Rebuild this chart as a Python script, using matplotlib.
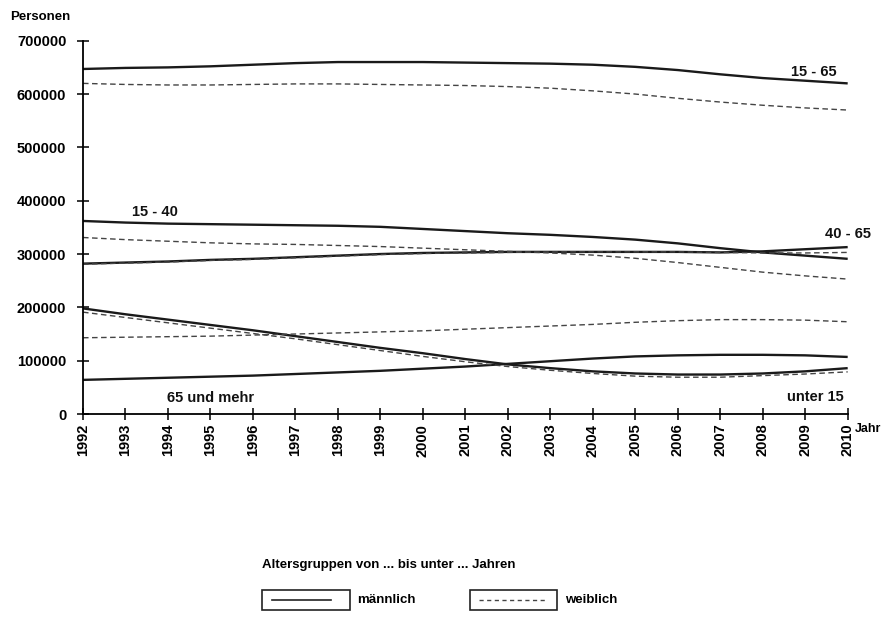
import matplotlib
matplotlib.use("Agg")
import matplotlib.pyplot as plt
from matplotlib.lines import Line2D
from matplotlib.patches import Rectangle

plt.rcParams["font.family"] = ["Liberation Sans", "DejaVu Sans"]

years = list(range(1992, 2011))

# maennlich (solid) / weiblich (dashed), persons per age group
m_15_65 = [647000, 649000, 650000, 652000, 655000, 658000, 660000, 660000, 660000, 659000,
           658000, 657000, 655000, 651000, 645000, 637000, 630000, 625000, 620000]
w_15_65 = [620000, 618000, 617000, 617000, 618000, 619000, 619000, 618000, 617000, 616000,
           614000, 611000, 606000, 600000, 592000, 585000, 579000, 574000, 570000]
m_15_40 = [362000, 359000, 357000, 356000, 355000, 354000, 353000, 351000, 347000, 343000,
           339000, 336000, 332000, 327000, 320000, 311000, 303000, 297000, 291000]
w_15_40 = [331000, 327000, 324000, 321000, 319000, 318000, 316000, 314000, 311000, 308000,
           305000, 302000, 298000, 292000, 284000, 275000, 266000, 259000, 253000]
m_40_65 = [282000, 284000, 286000, 289000, 291000, 294000, 297000, 300000, 302000, 303000,
           304000, 304000, 304000, 304000, 304000, 303000, 305000, 309000, 313000]
w_40_65 = [281000, 283000, 285000, 288000, 290000, 293000, 296000, 299000, 301000, 302000,
           303000, 304000, 304000, 304000, 304000, 303000, 302000, 302000, 303000]
m_u15 = [198000, 187000, 177000, 167000, 157000, 146000, 135000, 124000, 114000, 103000,
         93000, 86000, 80000, 76000, 74000, 74000, 76000, 80000, 86000]
w_u15 = [191000, 181000, 171000, 161000, 151000, 141000, 130000, 119000, 108000, 98000,
         89000, 82000, 76000, 71000, 69000, 69000, 72000, 75000, 79000]
m_65 = [64000, 66000, 68000, 70000, 72000, 75000, 78000, 81000, 85000, 89000,
        94000, 99000, 104000, 108000, 110000, 111000, 111000, 110000, 107000]
w_65 = [143000, 144000, 145000, 146000, 148000, 150000, 152000, 154000, 156000, 159000,
        162000, 165000, 168000, 172000, 175000, 177000, 177000, 176000, 173000]

fig = plt.figure(figsize=(8.83, 6.17), dpi=100)
ax = fig.add_axes([0.094, 0.329, 0.866, 0.605])

for s in [m_15_65, m_15_40, m_40_65, m_u15, m_65]:
    ax.plot(years, s, color="#1a1a1a", lw=1.7, solid_capstyle="butt")
for s in [w_15_65, w_15_40, w_40_65, w_u15, w_65]:
    ax.plot(years, s, color="#444444", lw=1.0, ls=(0, (4, 2.5)))

ax.set_xlim(1992, 2010)
ax.set_ylim(0, 700000)
ax.set_xticks(years)
ax.set_xticklabels([str(y) for y in years], rotation=90, fontsize=10.5, fontweight="bold")
ax.set_yticks(range(0, 700001, 100000))
ax.set_yticklabels([str(v) for v in range(0, 700001, 100000)], fontsize=10.5, fontweight="bold")
for sp in ["top", "right"]:
    ax.spines[sp].set_visible(False)
for sp in ["left", "bottom"]:
    ax.spines[sp].set_linewidth(1.3)
ax.tick_params(direction="inout", length=8, width=1.1, pad=3)
ax.tick_params(axis="y", pad=8)

txt = dict(fontsize=10.5, fontweight="bold", color="#111111")
ax.text(2009.2, 628000, "15 - 65", ha="center", va="bottom", **txt)
ax.text(1993.7, 366000, "15 - 40", ha="center", va="bottom", **txt)
ax.text(2010.0, 337000, "40 - 65", ha="center", va="center", **txt)
ax.text(2009.25, 32000, "unter 15", ha="center", va="center", **txt)
ax.text(1995.0, 30000, "65 und mehr", ha="center", va="center", **txt)

fig.text(0.011, 0.972, "Personen", fontsize=9.5, fontweight="bold", va="center")
fig.text(0.968, 0.305, "Jahr", fontsize=9, fontweight="bold", va="center")

# legend
fig.text(0.297, 0.085, "Altersgruppen von ... bis unter ... Jahren", fontsize=9.5,
         fontweight="bold", va="center")
fig.patches.append(Rectangle((0.297, 0.012), 0.099, 0.032, transform=fig.transFigure,
                             fill=False, lw=1.2, ec="#222222"))
fig.lines.append(Line2D([0.308, 0.375], [0.028, 0.028], transform=fig.transFigure,
                        color="#222222", lw=1.2))
fig.text(0.405, 0.028, "männlich", fontsize=9.5, fontweight="bold", va="center")
fig.patches.append(Rectangle((0.532, 0.012), 0.099, 0.032, transform=fig.transFigure,
                             fill=False, lw=1.2, ec="#222222"))
fig.lines.append(Line2D([0.543, 0.620], [0.028, 0.028], transform=fig.transFigure,
                        color="#444444", lw=1.0, ls=(0, (3, 2.5))))
fig.text(0.640, 0.028, "weiblich", fontsize=9.5, fontweight="bold", va="center")

fig.savefig("out.png", dpi=100)
